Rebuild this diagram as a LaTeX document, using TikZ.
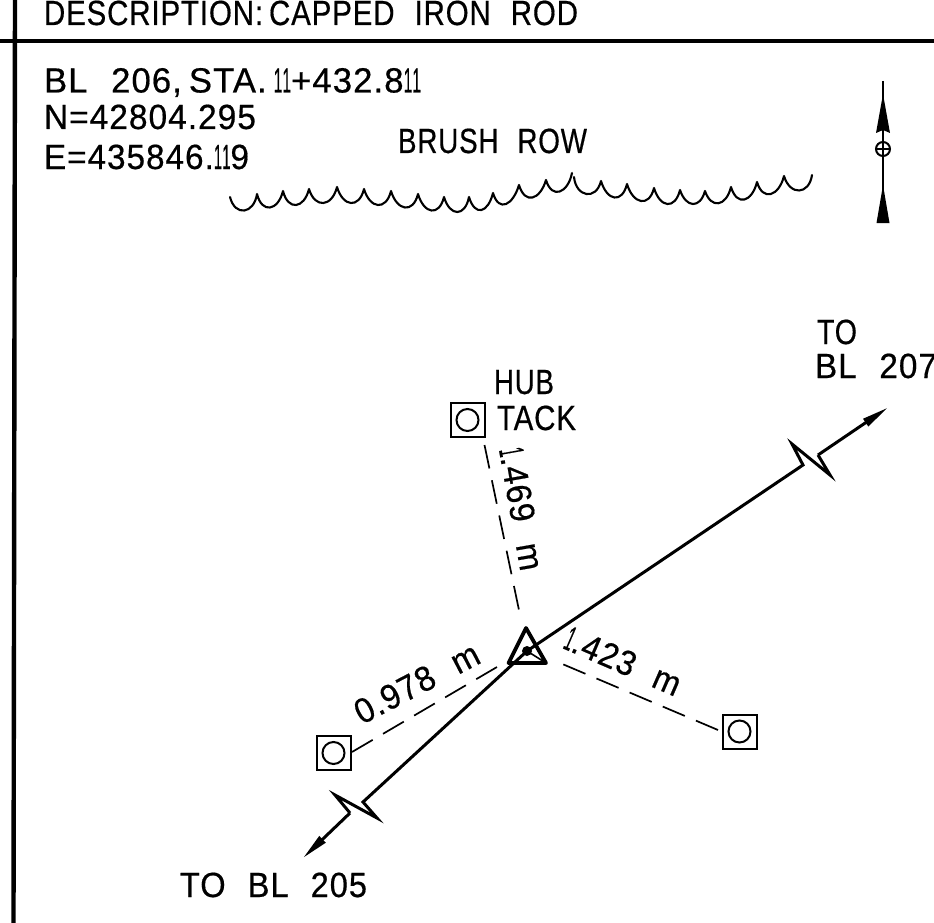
\documentclass[tikz,border=0pt]{standalone}
\usepackage{fontspec}
\usepackage{graphicx}
\usetikzlibrary{arrows.meta}
\setmainfont[WordSpace=2.2,LetterSpace=3,FakeBold=0.5]{Liberation Sans}
\newcommand{\fw}[3]{\resizebox{#2pt}{\height}{\fontsize{#1}{#1}\selectfont #3}}
\newcommand{\one}{\scalebox{0.45}[1]{1}}
\newcommand{\tsp}{\kern 7pt\relax}
\tikzset{
  lbl/.style={anchor=base west,inner sep=0pt,outer sep=0pt,text=black},
  frameline/.style={line width=4.4pt,black},
  mainline/.style={line width=3pt,black,line join=miter},
  tie/.style={line width=1.7pt,black,dash pattern=on 24pt off 12pt},
  hubbox/.style={draw,line width=2pt,minimum size=34pt,inner sep=0pt,outer sep=0pt},
  hubring/.style={draw,circle,line width=2pt,minimum size=22pt,inner sep=0pt,outer sep=0pt},
  brush/.style={line width=2.1pt,black,line cap=round,line join=round},
  tip/.style={-{Stealth[length=27pt,width=8.5pt,inset=0pt]}}
}
\begin{document}
\begin{tikzpicture}[x=1pt,y=-1pt]
\useasboundingbox (0,0) rectangle (934,923);
\clip (0,0) rectangle (934,923);
\fill[white] (0,0) rectangle (934,923);
% frame
\coordinate (fa) at (15,0); \coordinate (fb) at (13.5,923);
\coordinate (fc) at (0,41); \coordinate (fd) at (934,41);
\draw[frameline] (fa) -- (fb);
\draw[frameline,line width=3.6pt] (fc) -- (fd);
% header text
\node[lbl] (desc) at (44,25) {\fw{35}{534}{DESCRIPTION:\tsp CAPPED IRON ROD}};
\node[lbl] (sta) at (44,92.5) {\fw{35}{377}{BL 206,\tsp STA.\tsp \one\one+432.8\one\one}};
\node[lbl] (north) at (44,129) {\fw{35}{212}{N=42804.295}};
\node[lbl] (east) at (44,169) {\fw{35}{205}{E=435846.\one\one9}};
\node[lbl] (brl) at (398,153) {\fw{35}{189}{BRUSH ROW}};
% brush row
\draw[brush] (230,197)
  .. controls +(5,20) and +(-3,20) .. (257,194)
  .. controls +(5,20) and +(-5,20) .. (283,191)
  .. controls +(5,20) and +(-5,20) .. (309,189)
  .. controls +(6,20) and +(-5,20) .. (337,187)
  .. controls +(6,20) and +(-5,20) .. (364,189)
  .. controls +(6,20) and +(-5,20) .. (391,191)
  .. controls +(6,20) and +(-5,20) .. (418,194)
  .. controls +(6,20) and +(-5,20) .. (444,197)
  .. controls +(6,20) and +(-4,20) .. (469,197)
  .. controls +(6,20) and +(-5,20) .. (493,193)
  .. controls +(6,20) and +(-6,20) .. (519,185)
  .. controls +(6,20) and +(-6,20) .. (546,180)
  .. controls +(6,20) and +(-4,20) .. (572,173);
\draw[brush] (574,177)
  .. controls +(2,20) and +(-5,20) .. (601,181)
  .. controls +(6,20) and +(-5,20) .. (627,184)
  .. controls +(6,20) and +(-5,20) .. (654,188)
  .. controls +(6,20) and +(-5,20) .. (680,190)
  .. controls +(6,18) and +(-5,18) .. (705,191)
  .. controls +(6,18) and +(-5,20) .. (731,187)
  .. controls +(6,20) and +(-5,20) .. (757,182)
  .. controls +(6,20) and +(-5,20) .. (784,176)
  .. controls +(6,20) and +(-3,20) .. (812,175);
% north arrow
\coordinate (na) at (883,81); \coordinate (nb) at (883,223);
\node[draw,circle,line width=2pt,minimum size=14pt,inner sep=0pt] (nc) at (883,149) {};
\draw[line width=2.2pt] (na) -- (nb);
\draw[line width=1.2pt] (nc.west) -- (nc.east);
\fill (883,94) -- (890,133) -- (883,130) -- (876,133) -- cycle;
\fill (883,185) -- (889.5,223) -- (876.5,223) -- cycle;
% station triangle
\coordinate (ta) at (526,628); \coordinate (tb) at (508.5,663); \coordinate (tc) at (546,663);
\coordinate (tm) at (527,651);
\draw[line width=3.8pt,line join=round] (ta) -- (tb) -- (tc) -- cycle;
\draw[line width=1.6pt] (tm) -- (tc);
\fill (tm) circle (5pt);
% baseline, up
\coordinate (u1) at (803,465); \coordinate (u2) at (792,444); \coordinate (u3) at (830,475);
\coordinate (u4) at (818,455); \coordinate (u5) at (888,407.5);
\draw[mainline] (tm) -- (u1) -- (u2) -- (u3) -- (u4);
\draw[mainline,tip] (u4) -- (u5);
% baseline, down
\coordinate (d1) at (363,802); \coordinate (d2) at (377,818); \coordinate (d3) at (335,795);
\coordinate (d4) at (350,813); \coordinate (d5) at (303,858);
\draw[mainline] (tm) -- (d1) -- (d2) -- (d3) -- (d4);
\draw[mainline,tip] (d4) -- (d5);
% hubs
\node[hubbox] (h1) at (467.5,420) {}; \node[hubring] (r1) at (h1) {};
\node[hubbox] (h2) at (739.5,731.5) {}; \node[hubring] (r2) at (h2) {};
\node[hubbox] (h3) at (333.5,753) {}; \node[hubring] (r3) at (h3) {};
% ties
\coordinate (s1) at (484.5,445); \coordinate (e1) at (520,615);
\coordinate (s2) at (718,730); \coordinate (e2) at (560,663);
\coordinate (s3) at (352,752); \coordinate (e3) at (497,667);
\draw[tie] (s1) -- (e1);
\draw[tie] (s2) -- (e2);
\draw[tie] (s3) -- (e3);
% labels
\node[lbl,rotate=-80] (l1) at (499,450) {\fw{35}{124}{\one.469 m}};
\node[lbl,rotate=-23.4] (l2) at (562,648) {\fw{35}{123}{\one.423 m}};
\node[lbl,rotate=27.5] (l3) at (362,725) {\fw{35}{136}{0.978 m}};
\node[lbl] (hub) at (494,394) {\fw{35}{60}{HUB}};
\node[lbl] (tack) at (497,430) {\fw{35}{79}{TACK}};
\node[lbl] (to7) at (817,344) {\fw{35}{40}{TO}};
\node[lbl] (bl7) at (815,378) {\fw{35}{122}{BL 207}};
\node[lbl] (bl5) at (180,897) {\fw{35}{187}{TO BL 205}};
\end{tikzpicture}
\end{document}
